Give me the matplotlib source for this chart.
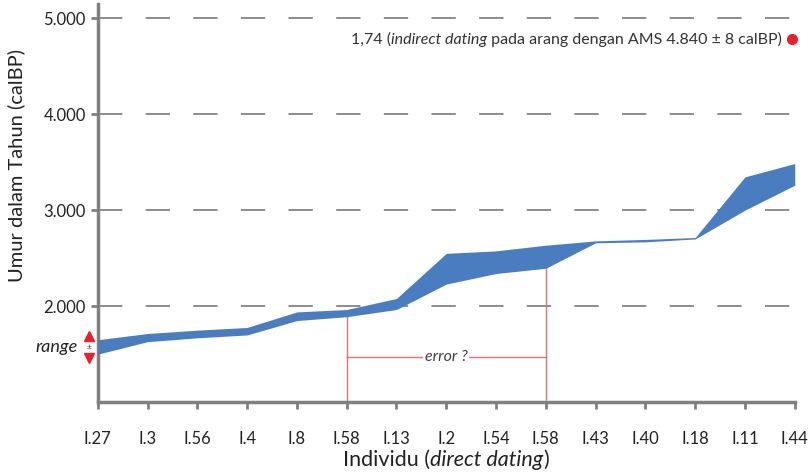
import matplotlib
matplotlib.use('Agg')
import matplotlib.pyplot as plt

plt.rcParams['font.family'] = ['Lato', 'DejaVu Sans']

# Data
individu = ['I.27', 'I.3', 'I.56', 'I.4', 'I.8', 'I.58', 'I.13', 'I.2',
            'I.54', 'I.58', 'I.43', 'I.40', 'I.18', 'I.11', 'I.44']
umur_atas = [1650, 1715, 1750, 1778, 1940, 1965, 2080, 2550, 2576, 2635, 2680, 2695, 2715, 3347, 3486]
umur_bawah = [1500, 1630, 1670, 1700, 1850, 1890, 1965, 2230, 2340, 2395, 2660, 2670, 2700, 3000, 3260]
ams_umur = 4780
y_ticks = [2000, 3000, 4000, 5000]
y_labels = ['2.000', '3.000', '4.000', '5.000']

x = list(range(len(individu)))

fig = plt.figure(figsize=(8.08, 4.72), dpi=100)
ax = fig.add_axes([0.121, 0.148, 0.8626, 0.844])

# dashed grid lines
for yv in y_ticks:
    ax.axhline(yv, color='#8c8c8c', lw=1.4, dashes=(12.5, 12), zorder=1)

# band of ranges
ax.fill_between(x, umur_bawah, umur_atas, color='#4a7dc0', lw=0, zorder=3)

# "error ?" markers
red = '#e8707a'
ax.plot([5, 5], [1000, umur_bawah[5]], color=red, lw=1, zorder=2)
ax.plot([9, 9], [1000, umur_bawah[9]], color=red, lw=1, zorder=2)
ax.plot([5, 9], [1470, 1470], color=red, lw=1, zorder=2)
ax.text(7, 1470, 'error ?', style='italic', fontsize=11.5, color='#404040',
        ha='center', va='center', zorder=4,
        bbox=dict(facecolor='white', edgecolor='none', pad=1))

# AMS dot and its label
ax.plot([13.95], [ams_umur], 'o', color='#e8202a', ms=7, clip_on=False, zorder=5)
t3 = ax.text(13.75, ams_umur, ' pada arang dengan AMS 4.840 ± 8 calBP)', fontsize=11.5,
             color='#333333', ha='right', va='center')
t2 = ax.annotate('indirect dating', xy=(0, 0), xycoords=t3, ha='right', va='bottom',
                 style='italic', fontsize=11.5, color='#333333')
ax.annotate('1,74 (', xy=(0, 0), xycoords=t2, ha='right', va='bottom',
            fontsize=11.5, color='#333333')

# "range" legend left of the axis
ax.text(-0.4, 1573, 'range', style='italic', fontsize=13, color='#222222',
        ha='right', va='center', clip_on=False)
ax.plot([-0.18], [1685], marker='^', color='#e8202a', ms=7, clip_on=False)
ax.plot([-0.18], [1460], marker='v', color='#e8202a', ms=7, clip_on=False)
ax.text(-0.18, 1573, '±', fontsize=6, color='#333333', ha='center', va='center',
        clip_on=False)

ax.set_xlim(0, 14)
ax.set_ylim(1000, 5150)
ax.set_xticks(x)
ax.set_xticklabels(individu, fontsize=12, color='#222222')
ax.set_yticks(y_ticks)
ax.set_yticklabels(y_labels, fontsize=12, color='#222222')
ax.tick_params(axis='both', color='#808080', width=2, length=5)
ax.tick_params(axis='x', pad=16)

for s in ['top', 'right']:
    ax.spines[s].set_visible(False)
for s in ['left', 'bottom']:
    ax.spines[s].set_color('#808080')
    ax.spines[s].set_linewidth(2.5)

ax.set_ylabel('Umur dalam Tahun (calBP)', fontsize=14.5, color='#222222')
ax.yaxis.set_label_coords(-0.104, 0.595)

# x axis title with italic part, centred under the axis
parts = [('Individu (', 'normal'), ('direct dating', 'italic'), (')', 'normal')]
texts = [fig.text(0, 0.013, s, fontsize=15.5, style=st, color='#222222',
                  ha='left', va='baseline') for s, st in parts]
fig.canvas.draw()
r = fig.canvas.get_renderer()
widths = [t.get_window_extent(r).width for t in texts]
centre = ax.transData.transform((7, 0))[0]
left = centre - sum(widths) / 2
for t, w in zip(texts, widths):
    t.set_x(left / fig.bbox.width)
    left += w

fig.savefig('out.png', dpi=100)
